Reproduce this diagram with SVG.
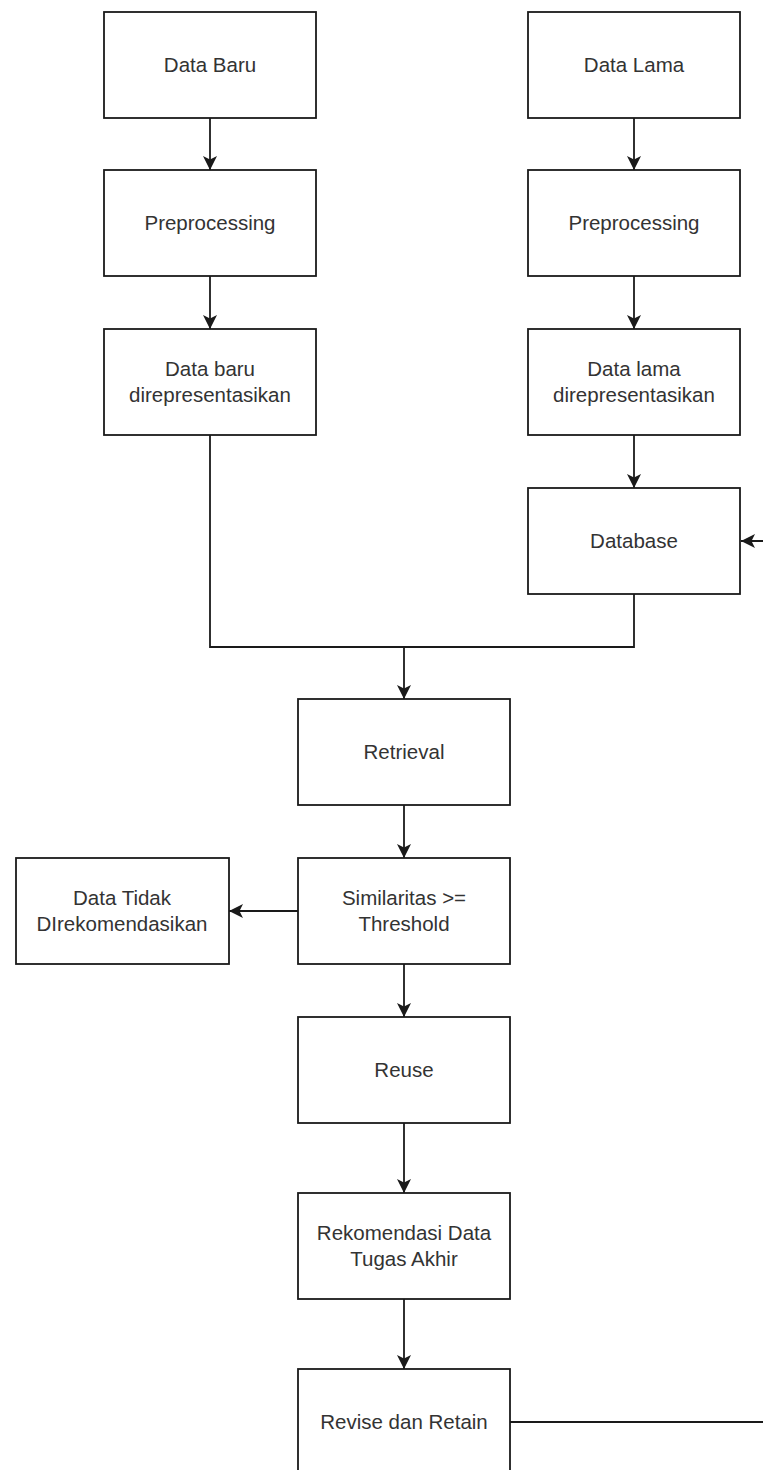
<svg xmlns="http://www.w3.org/2000/svg" width="763" height="1470" viewBox="0 0 763 1470">
  <style>
    .box { fill: #ffffff; stroke: #1a1a1a; stroke-width: 1.8; }
    .lbl { font-family: "Liberation Sans", Arial, Helvetica, sans-serif; font-size: 20.5px; fill: #333333; text-anchor: middle; }
    .edge { fill: none; stroke: #1a1a1a; stroke-width: 1.8; }
  </style>
  <defs>
    <marker id="arrow" markerUnits="userSpaceOnUse" viewBox="0 0 14 14" markerWidth="14" markerHeight="14" refX="14" refY="7" orient="auto">
      <path d="M14,7 L0,0 L3.5,7 L0,14 Z" fill="#1a1a1a"/>
    </marker>
  </defs>
  <rect width="763" height="1470" fill="#ffffff"/>

  <!-- Connectors -->
  <g id="connectors">
    <path class="edge" d="M210,118 V170" marker-end="url(#arrow)"/>
    <path class="edge" d="M210,276 V329" marker-end="url(#arrow)"/>
    <path class="edge" d="M634,118 V170" marker-end="url(#arrow)"/>
    <path class="edge" d="M634,276 V329" marker-end="url(#arrow)"/>
    <path class="edge" d="M634,435 V488" marker-end="url(#arrow)"/>
    <path class="edge" d="M210,435 V647 H634 V594"/>
    <path class="edge" d="M404,647 V699" marker-end="url(#arrow)"/>
    <path class="edge" d="M404,805 V858" marker-end="url(#arrow)"/>
    <path class="edge" d="M298,911 H229" marker-end="url(#arrow)"/>
    <path class="edge" d="M404,964 V1017" marker-end="url(#arrow)"/>
    <path class="edge" d="M404,1123 V1193" marker-end="url(#arrow)"/>
    <path class="edge" d="M404,1299 V1369" marker-end="url(#arrow)"/>
    <path class="edge" d="M510,1422 H790 V541 H741" marker-end="url(#arrow)"/>
  </g>

  <!-- Nodes -->
  <g id="data-baru">
    <rect class="box" x="104" y="12" width="212" height="106"/>
    <text class="lbl" x="210" y="72">Data Baru</text>
  </g>
  <g id="preprocessing-baru">
    <rect class="box" x="104" y="170" width="212" height="106"/>
    <text class="lbl" x="210" y="230">Preprocessing</text>
  </g>
  <g id="data-baru-rep">
    <rect class="box" x="104" y="329" width="212" height="106"/>
    <text class="lbl" x="210" y="376">Data baru</text>
    <text class="lbl" x="210" y="402">direpresentasikan</text>
  </g>

  <g id="data-lama">
    <rect class="box" x="528" y="12" width="212" height="106"/>
    <text class="lbl" x="634" y="72">Data Lama</text>
  </g>
  <g id="preprocessing-lama">
    <rect class="box" x="528" y="170" width="212" height="106"/>
    <text class="lbl" x="634" y="230">Preprocessing</text>
  </g>
  <g id="data-lama-rep">
    <rect class="box" x="528" y="329" width="212" height="106"/>
    <text class="lbl" x="634" y="376">Data lama</text>
    <text class="lbl" x="634" y="402">direpresentasikan</text>
  </g>
  <g id="database">
    <rect class="box" x="528" y="488" width="212" height="106"/>
    <text class="lbl" x="634" y="548">Database</text>
  </g>

  <g id="retrieval">
    <rect class="box" x="298" y="699" width="212" height="106"/>
    <text class="lbl" x="404" y="759">Retrieval</text>
  </g>
  <g id="similaritas">
    <rect class="box" x="298" y="858" width="212" height="106"/>
    <text class="lbl" x="404" y="905">Similaritas &gt;=</text>
    <text class="lbl" x="404" y="931">Threshold</text>
  </g>
  <g id="data-tidak">
    <rect class="box" x="16" y="858" width="213" height="106"/>
    <text class="lbl" x="122" y="905">Data Tidak</text>
    <text class="lbl" x="122" y="931">DIrekomendasikan</text>
  </g>
  <g id="reuse">
    <rect class="box" x="298" y="1017" width="212" height="106"/>
    <text class="lbl" x="404" y="1077">Reuse</text>
  </g>
  <g id="rekomendasi">
    <rect class="box" x="298" y="1193" width="212" height="106"/>
    <text class="lbl" x="404" y="1240">Rekomendasi Data</text>
    <text class="lbl" x="404" y="1266">Tugas Akhir</text>
  </g>
  <g id="revise-retain">
    <rect class="box" x="298" y="1369" width="212" height="106"/>
    <text class="lbl" x="404" y="1429">Revise dan Retain</text>
  </g>
</svg>
